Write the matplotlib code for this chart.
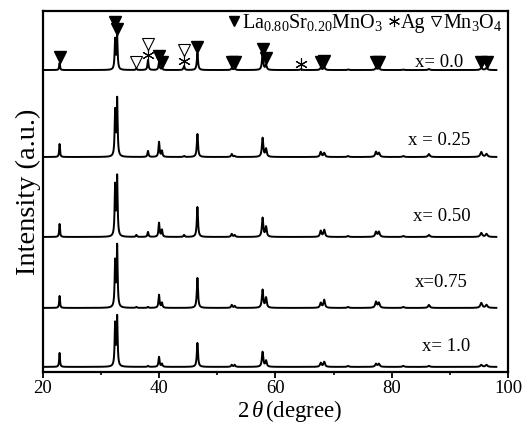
import numpy as np
import matplotlib
matplotlib.use("Agg")
import matplotlib.pyplot as plt
from matplotlib.lines import Line2D

plt.rcParams['font.family'] = ['Liberation Serif', 'DejaVu Serif']
plt.rcParams['mathtext.fontset'] = 'custom'
plt.rcParams['mathtext.rm'] = 'Liberation Serif'
plt.rcParams['mathtext.it'] = 'Liberation Serif:italic'

# perovskite La0.8Sr0.2MnO3 reflections, 2theta in degrees
lsmo_pos = [22.9, 32.45, 32.8, 40.0, 40.5, 46.6, 52.5, 53.0, 57.8, 58.4,
            67.8, 68.4, 72.5, 77.3, 77.8, 82.0, 86.4, 95.4, 96.3]
# secondary phase reflections (Mn3O4 / Ag)
sec_pos = [36.1, 38.1, 44.3, 64.4]

labels = ['x= 0.0', 'x = 0.25', 'x= 0.50', 'x=0.75', 'x= 1.0']

# peak heights (a.u.) for each sample, same order as lsmo_pos
h_00 = [7, 30, 33, 8, 2, 17, 2, 2, 15, 5, 2, 3, 0.5, 2, 2, 0.5, 1, 2, 2]
h_25 = [13, 45, 57, 15, 6, 23, 3, 1, 19, 8, 5, 4, 1, 5, 4, 1, 3, 5, 3]
h_50 = [13, 50, 59, 14, 7, 30, 3, 2, 19, 10, 6, 7, 1, 5, 5, 1, 2, 4, 3]
h_75 = [12, 45, 61, 13, 5, 30, 3, 2, 18, 10, 5, 8, 1, 6, 5, 1, 3, 5, 3]
h_10 = [14, 42, 49, 10, 3, 24, 2, 2, 15, 6, 4, 5, 1, 3, 3, 1, 1, 2, 2]

# secondary phase heights, same order as sec_pos
s_00 = [1.5, 10, 4, 1]
s_25 = [0, 6, 1, 0]
s_50 = [2, 5, 2, 0]
s_75 = [1, 1, 0, 0]
s_10 = [0, 1, 0, 0]

heights = [h_00, h_25, h_50, h_75, h_10]
sec_heights = [s_00, s_25, s_50, s_75, s_10]

# phase markers on the x = 0.0 pattern
lsmo_marks = [22.9, 32.45, 32.8, 40.0, 40.5, 46.6, 52.5, 53.0, 57.8, 58.4,
              67.8, 68.4, 77.3, 77.8, 95.4, 96.3]
lsmo_level = [0, 1, 0, 0, 0, 0, 0, 0, 0, 0, 0, 0, 0, 0, 0, 0]
mn3o4_marks = [36.1, 38.1, 44.3]
mn3o4_level = [0, 1, 1]
ag_marks = [38.1, 44.3, 64.4]

# vertical offsets of the stacked patterns
offsets = [302, 215, 135, 64, 5]
label_x = [84.0, 82.8, 83.7, 84.0, 85.2]
label_dy = [8, 17, 20, 25, 20]

tt = np.arange(20, 98, 0.01)


def profile(pos, h):
    y = np.zeros_like(tt)
    for p, a in zip(pos, h):
        w = 0.08 + 0.0015 * (p - 20)
        y += a / (1 + ((tt - p) / w) ** 2)
    return y


fig, ax = plt.subplots(figsize=(5.27, 4.26), dpi=100)
fig.subplots_adjust(left=0.081, right=0.964, bottom=0.127, top=0.974)

curves = []
for h, s, off, lab, lx, ldy in zip(heights, sec_heights, offsets, labels, label_x, label_dy):
    y = profile(lsmo_pos + sec_pos, h + s) + off
    curves.append(y)
    ax.plot(tt, y, color='black', lw=1.4)
    ax.text(lx, off + ldy, lab, fontsize=13.5, va='center', ha='left')


def top_of(y, p):
    m = np.abs(tt - p) < 0.2
    return y[m].max()


y0 = curves[0]
step = 10
for p, lev in zip(lsmo_marks, lsmo_level):
    ax.plot(p, top_of(y0, p) + 6 + lev * step, marker='v', color='black',
            ms=8.5, ls='none')
for p, lev in zip(mn3o4_marks, mn3o4_level):
    ax.plot(p, top_of(y0, p) + 6 + lev * step, marker='v', mfc='none',
            mec='black', mew=0.8, ms=9, ls='none')
for p in ag_marks:
    ax.plot(p, top_of(y0, p) + 5, marker=(6, 2, 0), color='black',
            mew=0.8, ms=9, ls='none')

handles = [
    Line2D([], [], marker='v', color='black', ls='none', ms=7),
    Line2D([], [], marker=(6, 2, 0), color='black', ls='none', ms=8, mew=0.8),
    Line2D([], [], marker='v', mfc='none', mec='black', ls='none', ms=7, mew=0.8),
]
names = [r'La$_{0.80}$Sr$_{0.20}$MnO$_3$', 'Ag', r'Mn$_3$O$_4$']
ax.legend(handles, names, ncol=3, loc='upper right', bbox_to_anchor=(1.01, 1.025),
          frameon=False, handlelength=0.5, handletextpad=0.1, columnspacing=0.3,
          borderaxespad=0.1, fontsize=14.5)

ax.set_xlim(20, 100)
ax.set_ylim(0, 361)
ax.set_xticks([20, 40, 60, 80, 100])
ax.set_xticks([30, 50, 70, 90], minor=True)
ax.set_yticks([])
ax.tick_params(axis='x', which='major', direction='out', length=4, width=1.3,
               labelsize=13.5, pad=2)
ax.tick_params(axis='x', which='minor', direction='out', length=2.5, width=1.2)
for sp in ax.spines.values():
    sp.set_linewidth(1.6)

ax.set_xlabel(r'2$\,\theta\,$(degree)', fontsize=16.5, labelpad=0)
ax.xaxis.set_label_coords(0.53, -0.072)
ax.set_ylabel('Intensity (a.u.)', fontsize=20.5, labelpad=1)

fig.savefig('out.png', dpi=100)
